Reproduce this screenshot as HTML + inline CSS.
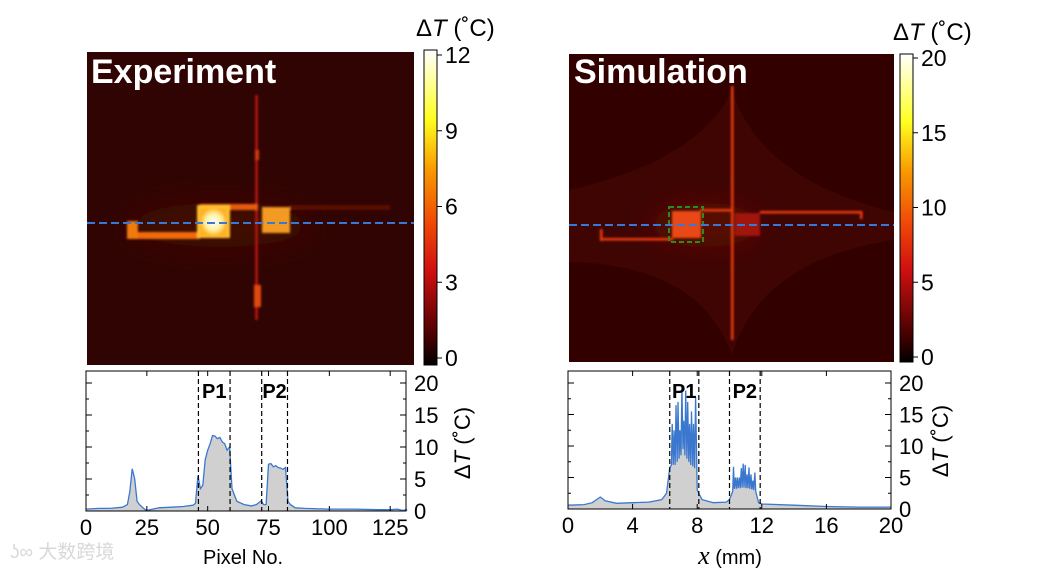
<!DOCTYPE html>
<html><head><meta charset="utf-8"><style>
body{margin:0;background:#fff;width:1060px;height:569px;overflow:hidden;font-family:"Liberation Sans",sans-serif}
svg{position:absolute;left:0;top:0}
text{font-family:"Liberation Sans","Noto Sans CJK SC",sans-serif}
</style></head><body>
<svg id="fig" width="1060" height="569" viewBox="0 0 1060 569">
<defs>
<linearGradient id="hot" x1="0" y1="1" x2="0" y2="0">
<stop offset="0" stop-color="#000"/><stop offset="0.08" stop-color="#400000"/><stop offset="0.3" stop-color="#d01010"/><stop offset="0.45" stop-color="#f04808"/><stop offset="0.62" stop-color="#f89a00"/><stop offset="0.78" stop-color="#ffff20"/><stop offset="1" stop-color="#fff"/>
</linearGradient>
<filter id="bl1"><feGaussianBlur stdDeviation="1"/></filter>
<filter id="bl12" x="-50%" y="-50%" width="200%" height="200%"><feGaussianBlur stdDeviation="14"/></filter>
<radialGradient id="p1g"><stop offset="0" stop-color="#fff"/><stop offset="0.6" stop-color="#fff2a0"/><stop offset="1" stop-color="#ffb020"/></radialGradient>
<clipPath id="clipL"><rect x="87" y="52" width="327" height="313"/></clipPath>
<clipPath id="clipR"><rect x="569" y="54" width="325" height="308"/></clipPath>
</defs>

<g clip-path="url(#clipL)">
<rect x="87" y="52" width="327" height="313" fill="#300402"/>
<ellipse cx="220" cy="225" rx="90" ry="22" fill="#420804" filter="url(#bl12)"/>
<g filter="url(#bl1)">
<rect x="290" y="205" width="100" height="5" fill="#5a0e06"/>
<rect x="255" y="95" width="3" height="225" fill="#a81808"/>
<rect x="254" y="285" width="7" height="22" fill="#e04a10"/>
<rect x="255" y="150" width="4" height="10" fill="#d03a10"/>
<rect x="130" y="232" width="70" height="7" fill="#f06a10"/>
<rect x="127" y="221" width="11" height="18" fill="#f07a10"/>
<rect x="200" y="204" width="58" height="6" fill="#e85a10"/>
<rect x="262" y="207" width="28" height="26" fill="#f39a20"/>
<rect x="197" y="205" width="33" height="33" fill="#ffc030"/>
<rect x="200" y="208" width="27" height="28" fill="url(#p1g)"/>
</g>
<text x="91" y="83" font-size="34" font-weight="bold" fill="#fff">Experiment</text>
<line x1="87" y1="223" x2="414" y2="223" stroke="#3a78d8" stroke-width="2" stroke-dasharray="8,4"/>
</g>

<g clip-path="url(#clipR)">
<rect x="569" y="54" width="325" height="308" fill="#330000"/>
<path d="M569 190 Q700 160 732 90 Q760 180 894 212 L894 240 Q760 260 732 355 Q700 265 569 262 Z" fill="#3e0503"/>
<ellipse cx="705" cy="225" rx="55" ry="22" fill="#5a0c06" filter="url(#bl12)"/>
<g filter="url(#bl1)" fill="#f03a10">
<rect x="731" y="86" width="2.5" height="254"/>
<rect x="601" y="238" width="72" height="2.5"/>
<rect x="600" y="229" width="2.5" height="12"/>
<rect x="700" y="209" width="33" height="2.5"/>
<rect x="760" y="211" width="102" height="2.5"/>
<rect x="860" y="211" width="2.5" height="8"/>
<rect x="672" y="211" width="29" height="27" fill="#e84818"/>
<rect x="735" y="213" width="25" height="23" fill="#a01410"/>
</g>
<rect x="669" y="207" width="34" height="35" fill="none" stroke="#2e8a20" stroke-width="2" stroke-dasharray="5,3"/>
<text x="574" y="83" font-size="34" font-weight="bold" fill="#fff">Simulation</text>
<line x1="569" y1="225" x2="894" y2="225" stroke="#3a78d8" stroke-width="2" stroke-dasharray="8,4"/>
</g>

<g>
<rect x="424" y="50" width="13" height="315" fill="url(#hot)" stroke="#000" stroke-width="1"/>
<text x="416" y="36" font-size="24">Δ<tspan font-style="italic">T</tspan> (˚C)</text>
</g>
<g>
<rect x="900" y="54" width="13" height="308" fill="url(#hot)" stroke="#000" stroke-width="1"/>
<text x="893" y="40" font-size="24">Δ<tspan font-style="italic">T</tspan> (˚C)</text>
</g>
<g id="cbticks"></g>

<g id="plotL"></g>
<g id="plotR"></g>

<text x="243" y="564" font-size="20" text-anchor="middle">Pixel No.</text>
<text x="730" y="564" font-size="20" text-anchor="middle"><tspan font-family="Liberation Serif" font-style="italic" font-size="26">x</tspan> (mm)</text>
<text x="10" y="558" font-size="19" fill="#d8d8d8">ʖ∞ 大数跨境</text>
</svg>
<script>
const cbTicksL=[0,3,6,9,12];
const cbTicksR=[0,5,10,15,20];
const pixL=[0,5,10,15,17,18,19,20,21,22,24,25,30,35,40,44,45,46,47,48,49,50,51,52,53,54,55,56,57,58,59,60,61,62,65,68,70,72,73,74,75,76,77,78,79,80,81,82,83,84,86,90,100,110,120,125,128,130,132];
const dTL=[0.3,0.4,0.4,0.6,1.0,3,6.6,5,1.5,1.0,0.3,0.1,0.5,0.6,0.7,0.9,1.2,5.5,3.5,4,8,9.5,10.5,11.8,11.7,11.3,11.5,10.8,10.5,9.5,10,3.5,2.5,1.5,1.0,0.8,1.0,1.6,1.0,1.0,7.3,7.4,6.9,7.1,6.8,6.7,6.5,6.8,1.5,1.0,0.5,0.4,0.3,0.3,0.2,0.2,0.3,0.1,0.2];
const regionsL=[46.2,59.2,72.2,82.8];
const xTicksL=[0,25,50,75,100,125];
const xmmR=[0,1,1.5,2,2.3,3,4,5,5.8,6.1,6.3,6.4,6.45,6.52,6.57,6.64,6.69,6.76,6.81,6.88,6.93,7.0,7.05,7.12,7.17,7.24,7.29,7.36,7.41,7.48,7.53,7.6,7.65,7.72,7.77,7.84,7.9,8.0,8.3,9,9.8,10.0,10.2,10.25,10.3,10.37,10.42,10.49,10.54,10.61,10.66,10.73,10.78,10.85,10.9,10.97,11.02,11.09,11.14,11.21,11.26,11.33,11.38,11.45,11.5,11.57,11.62,11.7,11.8,12,14,16,18,20];
const dTR=[0.6,0.7,1.0,1.9,1.3,0.9,1.0,1.1,1.5,2.5,6.5,7,13.5,7,12.5,7,16.5,7.5,17,8,12.5,8.5,19.5,9.5,14,8.5,18.8,8,17,7.5,13.5,7,15.5,6.8,13.5,6.5,17.8,3,1.5,1.0,1.1,1.5,2.8,6.7,3.2,5,3.2,5,3.3,5,3.3,6.5,3.4,7.2,3.4,7,3.3,5.5,3.3,6.6,3.2,5.5,3.1,4.5,3.0,5.8,2.8,2.0,1.0,0.8,0.6,0.4,0.3,0.3];
const regionsR=[6.3,8.1,10.0,11.9];
const xTicksR=[0,4,8,12,16,20];
const yTicks=[0,5,10,15,20];

const NS='http://www.w3.org/2000/svg';
function mk(parent,tag,attrs,txt){const e=document.createElementNS(NS,tag);for(const k in attrs)e.setAttribute(k,attrs[k]);if(txt!==undefined)e.textContent=txt;parent.appendChild(e);return e;}

const cbg=document.getElementById('cbticks');
function cb(ticks,x,y0,y1){
  const max=ticks[ticks.length-1];
  ticks.forEach(t=>{
    const y=y0-(t/max)*(y0-y1);
    const l=mk(cbg,'line',{x1:x+13,x2:x+18,y1:y,y2:y,stroke:'#000','stroke-width':1});
    
    
    const tx=mk(cbg,'text',{x:x+21,y:y+8,'font-size':23},String(t));
    
    
  });
}
cb(cbTicksL,424,358,55);
cb(cbTicksR,900,357,58);

function plot(gid,xs,ys,xmin,xmax,px0,px1,py0,py1,xt,regions,titleX){
  const g=document.getElementById(gid);
  const sx=v=>px0+(v-xmin)/(xmax-xmin)*(px1-px0);
  const sy=v=>py0-(v/20)*(py0-py1);
  const top=py1-12;
  let d='M'+sx(xs[0])+' '+py0;
  xs.forEach((x,i)=>{d+=' L'+sx(x).toFixed(1)+' '+sy(ys[i]).toFixed(1);});
  d+=' L'+sx(xs[xs.length-1])+' '+py0+' Z';
  const area=mk(g,'path',{d:d,fill:'#d0d0d0',stroke:'none'});
  
  
  let ld='';
  xs.forEach((x,i)=>{ld+=(i?' L':'M')+sx(x).toFixed(1)+' '+sy(ys[i]).toFixed(1);});
  const line=mk(g,'path',{d:ld,fill:'none',stroke:'#3a78d0','stroke-width':1.3});
  
  
  regions.forEach(r=>{
    const l=mk(g,'line',{x1:sx(r),x2:sx(r),y1:top,y2:py0,stroke:'#000','stroke-width':1.2,'stroke-dasharray':'5,3'});
    
    
  });
  [0,2].forEach((k,i)=>{
    const t=mk(g,'text',{x:(sx(regions[k])+sx(regions[k+1]))/2,y:top+27,'font-size':20,'font-weight':'bold','text-anchor':'middle'},'P'+(i+1));
    
    
  });
  const box=mk(g,'rect',{x:px0,y:top,width:px1-px0,height:py0-top,fill:'none',stroke:'#000','stroke-width':1});
  
  
  xt.forEach(t=>{
    const x=sx(t);
    mk(g,'line',{x1:x,x2:x,y1:py0,y2:py0-5,stroke:'#000'});
    mk(g,'line',{x1:x,x2:x,y1:top,y2:top+5,stroke:'#000'});
    const tx=mk(g,'text',{x:x,y:py0+24,'font-size':22,'text-anchor':'middle'},String(t));
    
    
  });
  for(let v=0;v<=20;v+=2.5){
    const y=sy(v);const len=(v%5===0)?6:3;
    mk(g,'line',{x1:px0,x2:px0+len,y1:y,y2:y,stroke:'#000'});
    mk(g,'line',{x1:px1,x2:px1-len,y1:y,y2:y,stroke:'#000'});
  }
  yTicks.forEach(t=>{
    const tx=mk(g,'text',{x:px1+8,y:sy(t)+8,'font-size':22},String(t));
    
    
  });
  const yt=mk(g,'text',{transform:'translate('+titleX+','+(py0-68)+') rotate(-90)','font-size':22,'text-anchor':'middle'});
  
  
  mk(yt,'tspan',{},'Δ');
  const ts=mk(yt,'tspan',{},'T'); ts.setAttribute('font-style','italic');
  mk(yt,'tspan',{},' (˚C)');
}
plot('plotL',pixL,dTL,0,131.5,86,406,511,383,xTicksL,regionsL,470);
plot('plotR',xmmR,dTR,0,20,568,891,509,383,xTicksR,regionsR,948);
</script>
</body></html>
